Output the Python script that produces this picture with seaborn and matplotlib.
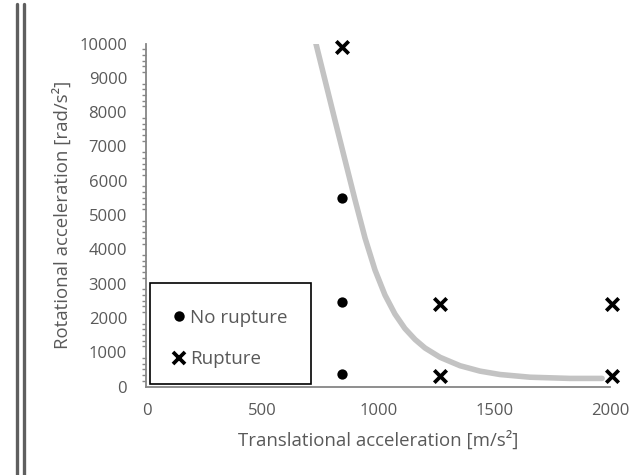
import matplotlib
matplotlib.use("Agg")
import matplotlib.pyplot as plt
from matplotlib.lines import Line2D
from matplotlib.patches import Rectangle
from matplotlib.ticker import AutoMinorLocator
import seaborn as sns
import pandas as pd

# Test outcomes
no_rupture_x = [845, 845, 845]
no_rupture_y = [5500, 2450, 370]
rupture_x = [845, 1265, 1265, 2010, 2010]
rupture_y = [9900, 2400, 300, 2400, 300]

# Injury threshold curve
threshold_x = [731, 813, 900, 943, 986, 1029, 1072, 1115, 1159, 1202,
               1267, 1353, 1439, 1525, 1655, 1827, 1966]
threshold_y = [10000, 7770, 5437, 4329, 3397, 2668, 2114, 1691, 1370, 1122,
               851, 606, 449, 350, 271, 236, 236]

x_ticks = [0, 500, 1000, 1500, 2000]
y_ticks = [0, 1000, 2000, 3000, 4000, 5000, 6000, 7000, 8000, 9000, 10000]

sns.set_style("white")
plt.rcParams["font.family"] = ["Open Sans", "DejaVu Sans"]

text_gray = "#595959"
axis_gray = "#868686"

fig = plt.figure(figsize=(6.35, 4.75), dpi=100)
ax = fig.add_axes([0.2307, 0.1863, 0.7299, 0.7221])

curve = pd.DataFrame({"x": threshold_x, "y": threshold_y})
sns.lineplot(data=curve, x="x", y="y", ax=ax, color="#c3c3c3", linewidth=4,
             sort=False, estimator=None, zorder=2,
             solid_capstyle="round", solid_joinstyle="round")

nr = pd.DataFrame({"x": no_rupture_x, "y": no_rupture_y})
ru = pd.DataFrame({"x": rupture_x, "y": rupture_y})
sns.scatterplot(data=nr, x="x", y="y", ax=ax, color="black", marker="o",
                s=55, edgecolor="black", linewidth=0, zorder=3, clip_on=False)
sns.scatterplot(data=ru, x="x", y="y", ax=ax, color="black", marker="x",
                s=80, linewidth=2.7, zorder=3, clip_on=False)

ax.set_xlim(0, 2000)
ax.set_ylim(0, 10000)
ax.set_xticks(x_ticks)
ax.set_yticks(y_ticks)
ax.yaxis.set_minor_locator(AutoMinorLocator(6))

for side in ["top", "right"]:
    ax.spines[side].set_visible(False)
for side in ["left", "bottom"]:
    ax.spines[side].set_color(axis_gray)
    ax.spines[side].set_linewidth(1.3)

ax.tick_params(axis="x", which="major", direction="out", length=5, width=1.1,
               color=axis_gray, labelsize=12, labelcolor=text_gray, pad=7)
ax.tick_params(axis="y", which="major", direction="inout", length=8, width=1.1,
               color=axis_gray, labelsize=12, labelcolor=text_gray, pad=10)
ax.tick_params(axis="y", which="minor", direction="out", length=3, width=1.0,
               color=axis_gray, left=True)

ax.set_xlabel("Translational acceleration [m/s²]", fontsize=13.4,
              color=text_gray, labelpad=8)
ax.set_ylabel("Rotational acceleration [rad/s²]", fontsize=13.4,
              color=text_gray, labelpad=5)

# Legend in a framed box at the lower left
box = Rectangle((0.0076, 0.007), 0.347, 0.294, transform=ax.transAxes,
                facecolor="white", edgecolor="black", linewidth=1.2, zorder=4)
ax.add_patch(box)
handles = [
    Line2D([], [], linestyle="none", marker="o", markersize=7.5,
           color="black", markeredgewidth=0),
    Line2D([], [], linestyle="none", marker="x", markersize=9,
           color="black", markeredgewidth=2.7),
]
leg = ax.legend(handles, ["No rupture", "Rupture"], loc="center",
                bbox_to_anchor=(0.177, 0.14), frameon=False,
                fontsize=13.5, labelspacing=1.27, handletextpad=0.05,
                handlelength=1.0, labelcolor=text_gray)
leg.set_zorder(5)

# Double rule down the left edge
for xf in (17 / 635, 24 / 635):
    fig.add_artist(Line2D([xf, xf], [0, 0.992], transform=fig.transFigure,
                          color="#5f5f5f", linewidth=2.4))

fig.savefig("out.png", dpi=100)
